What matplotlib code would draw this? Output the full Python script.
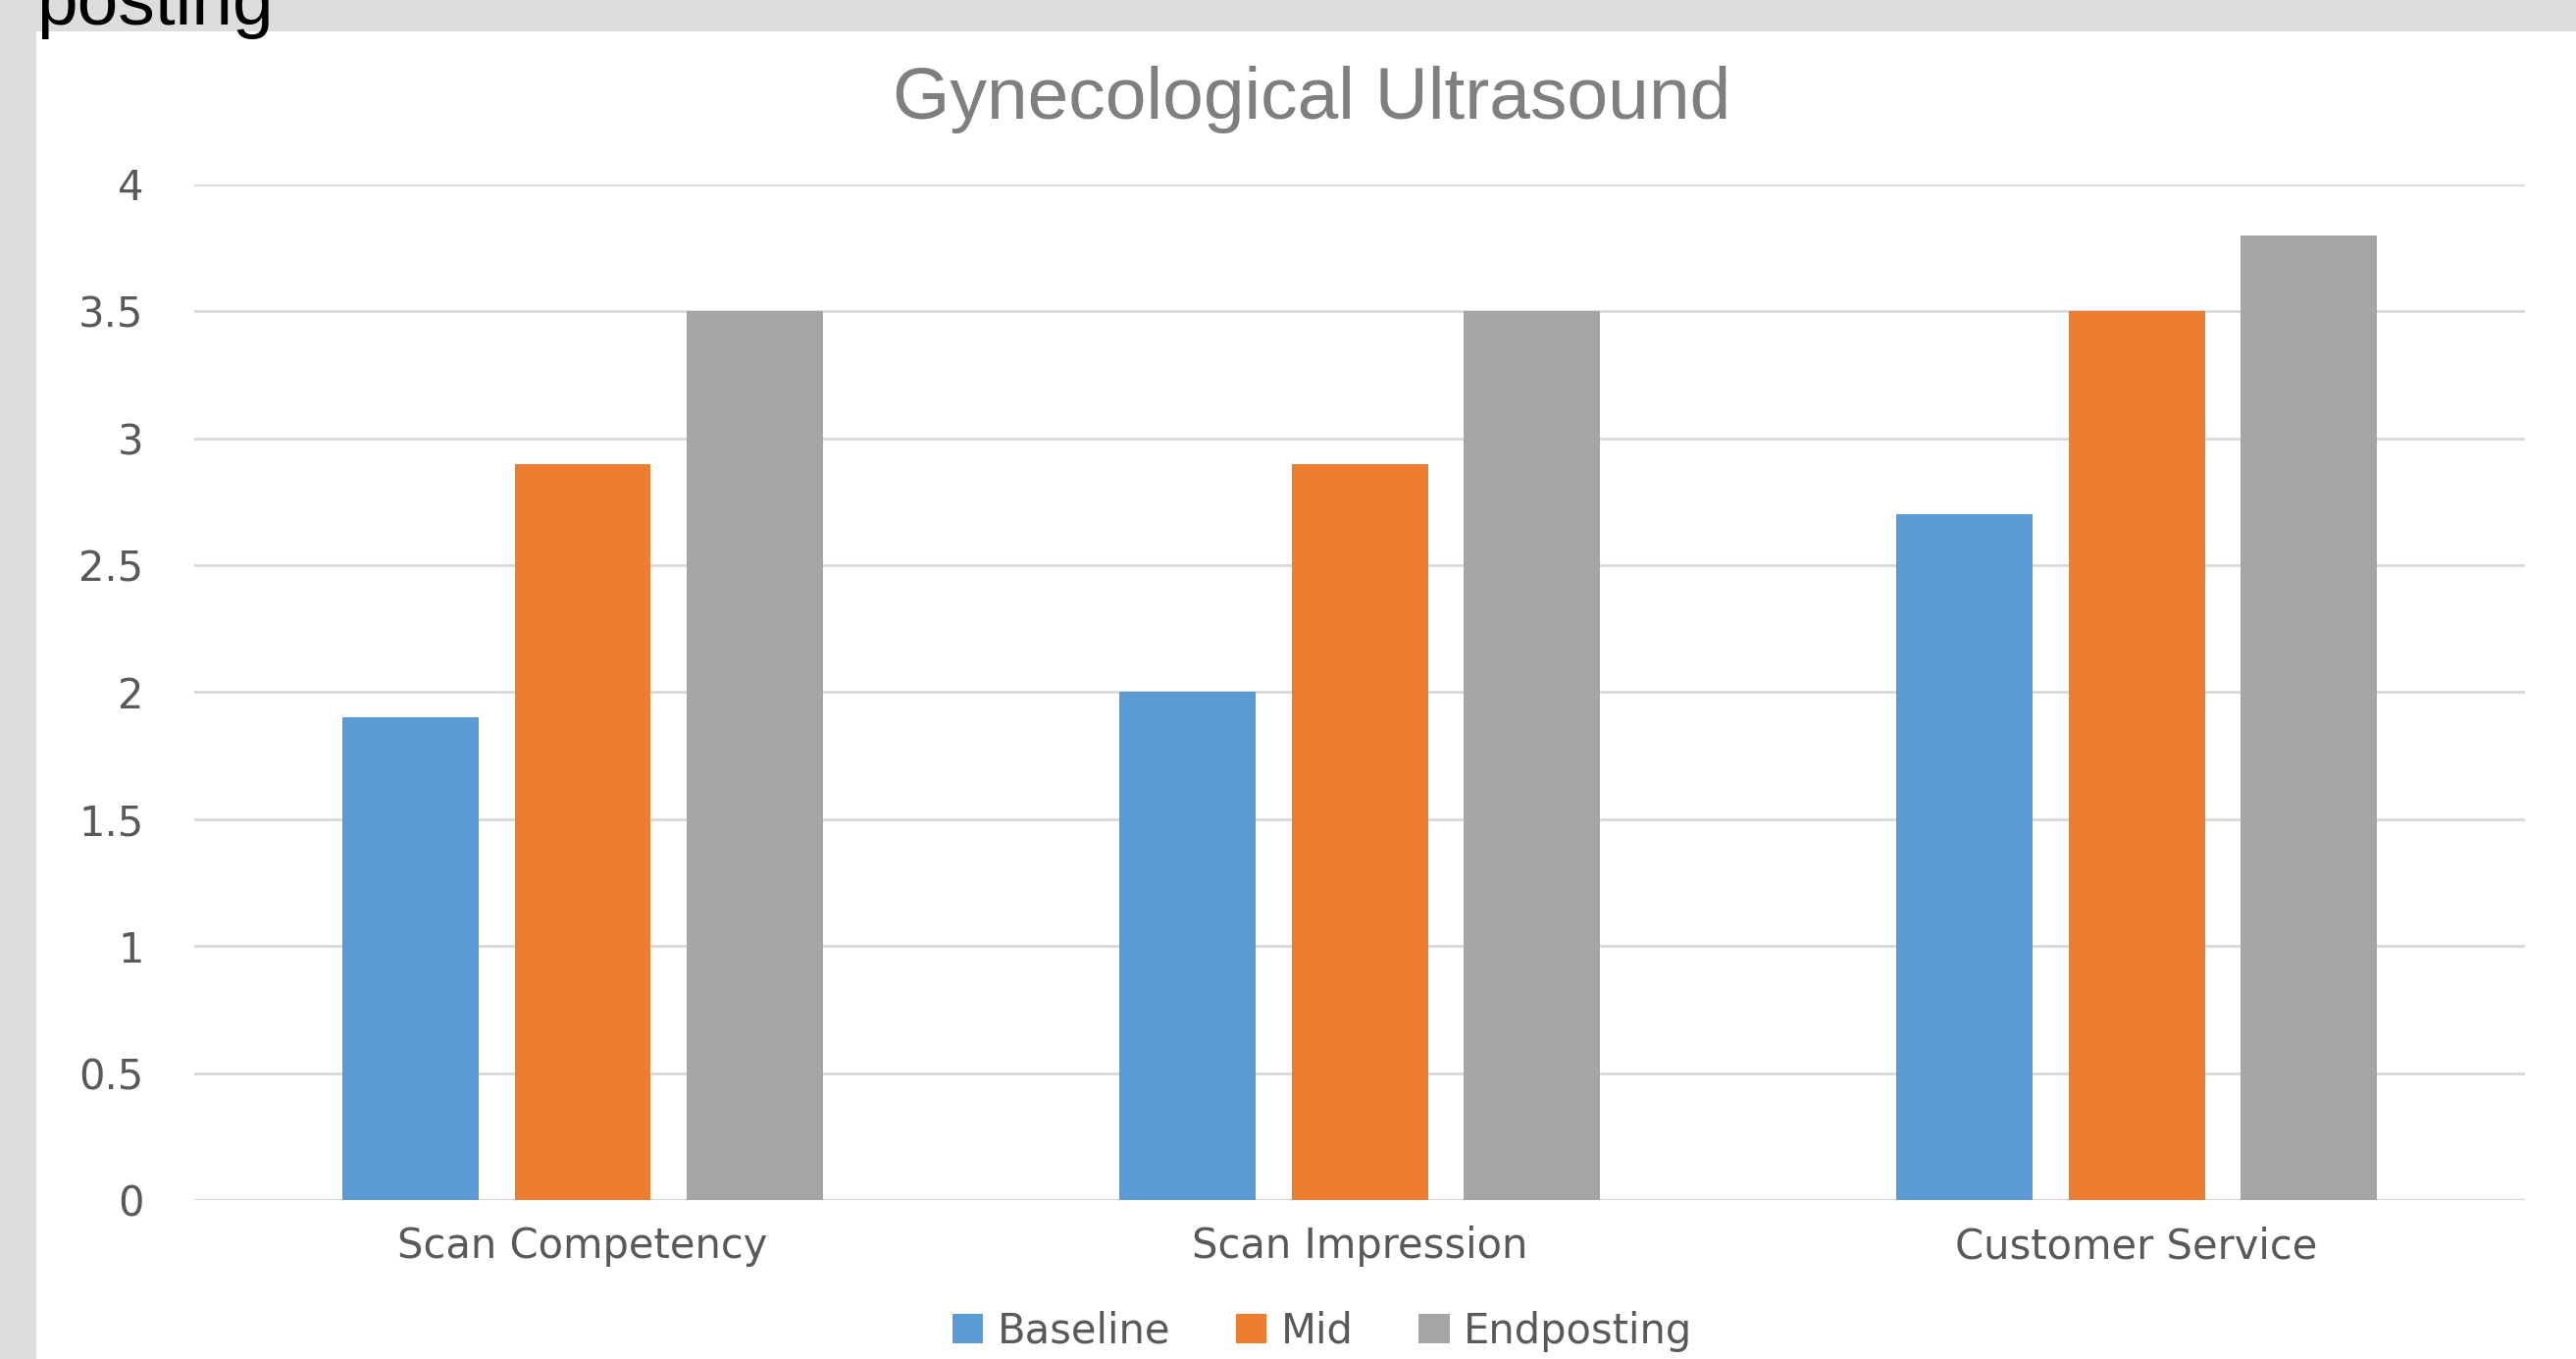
import matplotlib.pyplot as plt
import matplotlib.patches as mpatches
import numpy as np

categories = ["Scan Competency", "Scan Impression", "Customer Service"]
series = ["Baseline", "Mid", "Endposting"]
baseline = [1.9, 2.0, 2.7]
mid = [2.9, 2.9, 3.5]
endposting = [3.5, 3.5, 3.8]
colors = ["#5b9bd5", "#ed7d31", "#a5a5a5"]
yticks = [0, 0.5, 1, 1.5, 2, 2.5, 3, 3.5, 4]

fig = plt.figure(figsize=(26.26, 13.85), dpi=100)
fig.patch.set_facecolor("#dcdddc")
# white slide area
fig.patches.append(mpatches.Rectangle((37 / 2626, 0), 1, 1 - 32 / 1385,
                                      transform=fig.transFigure,
                                      facecolor="white", edgecolor="none", zorder=-5))

ax = fig.add_axes([0.0754, 0.117, 0.9048, 0.7473])
ax.set_facecolor("white")

x = np.arange(len(categories))
width = 0.1755
step = 0.222
for i, (vals, c, name) in enumerate(zip([baseline, mid, endposting], colors, series)):
    ax.bar(x + (i - 1) * step, vals, width, color=c, label=name, zorder=3)

ax.set_xlim(-0.5, 2.5)
ax.set_ylim(0, 4)
ax.set_yticks(yticks)
ax.set_yticklabels(["0", "0.5", "1", "1.5", "2", "2.5", "3", "3.5", "4"])
ax.set_xticks(x)
ax.set_xticklabels(categories)
ax.grid(axis="y", color="#d9d9d9", linewidth=2, zorder=0)
for s in ["top", "right", "left", "bottom"]:
    ax.spines[s].set_visible(False)
ax.axhline(0, color="#d9d9d9", linewidth=2.5, zorder=2)
ax.tick_params(axis="both", length=0, labelsize=30, labelcolor="#595959")
ax.tick_params(axis="y", pad=37)
ax.tick_params(axis="x", pad=19)
for lbl in ax.get_xticklabels() + ax.get_yticklabels():
    lbl.set_fontfamily("DejaVu Sans")

fig.text(1337 / 2626, 1 - 102 / 1385, "Gynecological Ultrasound", ha="center", va="center",
         fontsize=54, color="#7f7f7f", family="Liberation Sans")
fig.text(37 / 2626, 1 - 25 / 1385, "posting", ha="left", va="baseline",
         fontsize=54, color="black", family="Liberation Sans")

ax.legend(loc="center", bbox_to_anchor=(805 / 1568, 1 - 810 / 827), bbox_transform=fig.transFigure,
          ncol=3, frameon=False, prop={"family": "DejaVu Sans", "size": 30}, labelcolor="#595959",
          handlelength=0.75, handleheight=0.75, handletextpad=0.35, columnspacing=1.6)

fig.savefig("out.png", dpi=100, facecolor=fig.get_facecolor())
